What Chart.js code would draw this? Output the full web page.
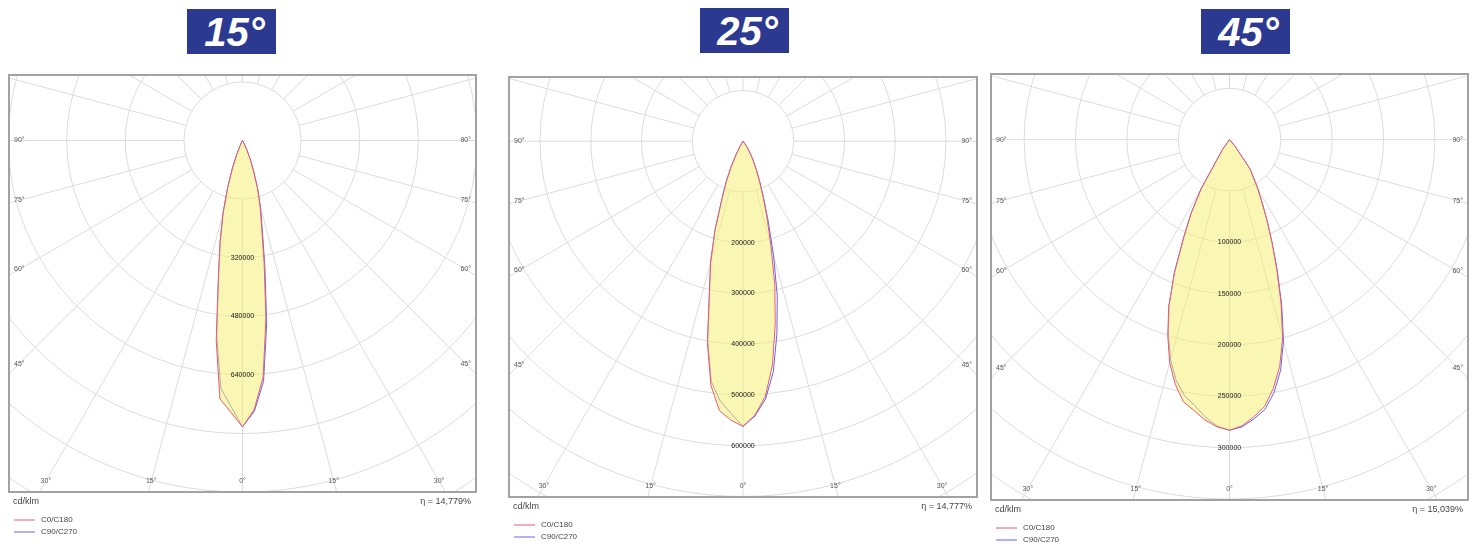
<!DOCTYPE html>
<html>
<head>
<meta charset="utf-8">
<script src="https://cdn.jsdelivr.net/npm/chart.js@4.4.0/dist/chart.umd.min.js"></script>
<style>
  html, body { margin: 0; padding: 0; background: #fff; }
  body { width: 1482px; height: 544px; position: relative; overflow: hidden; font-family: "Liberation Sans", Arial, sans-serif; }
  .tag { position: absolute; width: 89px; height: 45px; background: #2c3990; color: #fff;
         font-weight: bold; font-style: italic; font-size: 40px; line-height: 46px; text-align: center; padding-left: 6px; box-sizing: border-box; }
  canvas { position: absolute; }
</style>
</head>
<body>
<div class="tag" style="left:187px;top:9px">15°</div>
<div class="tag" style="left:700px;top:8px">25°</div>
<div class="tag" style="left:1201px;top:9px">45°</div>

<canvas id="c15" width="495" height="484" style="left:0;top:60px"></canvas>
<canvas id="c25" width="490" height="484" style="left:495px;top:60px"></canvas>
<canvas id="c45" width="497" height="484" style="left:985px;top:60px"></canvas>

<script>
// gamma angles (degrees from nadir) shared by all curves
const angles = [0, 2.5, 5, 7.5, 10, 12.5, 15, 17.5, 20, 22.5, 25, 27.5, 30, 35, 40, 45, 90];

// intensities cd/klm, 15° beam
const c0_15   = [782000, 735000, 648000, 490000, 341000, 241000, 186000, 136000, 87000, 55000, 27000, 8000, 0, 0, 0, 0, 0];
const c180_15 = [782000, 742000, 708000, 550000, 380000, 283000, 205000, 135000, 80000, 40000, 15000, 5000, 0, 0, 0, 0, 0];
const c90_15  = [782000, 740000, 660000, 505000, 352000, 250000, 190000, 138000, 88000, 55000, 27000, 8000, 0, 0, 0, 0, 0];
const c270_15 = [782000, 726000, 679000, 540000, 375000, 280000, 203000, 134000, 80000, 40000, 15000, 5000, 0, 0, 0, 0, 0];

// 25° beam
const c0_25   = [562000, 540000, 505000, 445000, 366000, 290000, 212000, 157000, 115000, 85000, 62000, 45000, 32000, 12000, 0, 0, 0];
const c180_25 = [562000, 550000, 533000, 485000, 404000, 307000, 247000, 184000, 122000, 87000, 55000, 28000, 10000, 0, 0, 0, 0];
const c90_25  = [562000, 542000, 510000, 458000, 385000, 312000, 232000, 165000, 118000, 86000, 62000, 45000, 32000, 12000, 0, 0, 0];
const c270_25 = [562000, 537000, 514000, 478000, 400000, 304000, 245000, 182000, 121000, 86000, 55000, 28000, 10000, 0, 0, 0, 0];

// 45° beam
const c0_45   = [283000, 279000, 271000, 262000, 246000, 226000, 200000, 167000, 135000, 108000, 86000, 68000, 55000, 35000, 8000, 0, 0];
const c180_45 = [283000, 280000, 274000, 266000, 259000, 244000, 225000, 200000, 173000, 140000, 106000, 81000, 55000, 12000, 0, 0, 0];
const c90_45  = [283000, 280000, 273000, 265000, 250000, 230000, 203000, 169000, 136000, 108000, 86000, 68000, 55000, 35000, 8000, 0, 0];
const c270_45 = [283000, 279000, 271000, 261000, 253000, 240000, 222000, 198000, 172000, 140000, 106000, 81000, 55000, 12000, 0, 0, 0];

// ring labels along the 0° axis
const rings15 = [320000, 480000, 640000];
const rings25 = [200000, 300000, 400000, 500000, 600000];
const rings45 = [100000, 150000, 200000, 250000, 300000];

const sideTicks = [90, 75, 60, 45];
const bottomTicks = [-30, -15, 0, 15, 30];
const legendLabels = ["C0/C180", "C90/C270"];

const RED = "rgb(232,92,112)";
const BLUE = "rgb(100,100,236)";
const FONT = '"Liberation Sans", Arial, sans-serif';

// left half = second plane (C180 / C270), right half = first plane (C0 / C90)
function curve(right, left) {
  const pts = [];
  for (let i = angles.length - 1; i >= 0; i--) {
    const a = angles[i] * Math.PI / 180;
    pts.push({ x: -left[i] * Math.sin(a), y: -left[i] * Math.cos(a) });
  }
  for (let i = 1; i < angles.length; i++) {
    const a = angles[i] * Math.PI / 180;
    pts.push({ x: right[i] * Math.sin(a), y: -right[i] * Math.cos(a) });
  }
  return pts;
}

const polarGrid = {
  id: "polarGrid",
  beforeDatasetsDraw(chart, args, opts) {
    const { ctx, chartArea: a, scales: { x, y } } = chart;
    const cx = x.getPixelForValue(0), cy = y.getPixelForValue(0);
    const rp = x.getPixelForValue(opts.step) - cx;
    ctx.save();
    ctx.beginPath();
    ctx.rect(a.left, a.top, a.width, a.height);
    ctx.clip();
    ctx.strokeStyle = "#dcdcdc";
    ctx.lineWidth = 1;
    for (let k = 1; k <= 10; k++) {
      ctx.beginPath();
      ctx.arc(cx, cy, k * rp, 0, Math.PI * 2);
      ctx.stroke();
    }
    for (let d = 0; d < 360; d += 15) {
      const t = d * Math.PI / 180;
      ctx.beginPath();
      ctx.moveTo(cx + rp * Math.sin(t), cy + rp * Math.cos(t));
      ctx.lineTo(cx + 2000 * Math.sin(t), cy + 2000 * Math.cos(t));
      ctx.stroke();
    }
    ctx.restore();
  },
  afterDatasetsDraw(chart, args, opts) {
    const { ctx, chartArea: a, scales: { x, y } } = chart;
    const cx = x.getPixelForValue(0), cy = y.getPixelForValue(0);
    ctx.save();
    ctx.font = "7px " + FONT;
    ctx.fillStyle = "#222";
    ctx.textAlign = "center";
    ctx.textBaseline = "middle";
    opts.rings.forEach(v => ctx.fillText(String(v), cx, y.getPixelForValue(-v)));

    ctx.fillStyle = "#555";
    const dx = cx - (a.left + 10);
    sideTicks.forEach(t => {
      const ty = cy + dx / Math.tan(t * Math.PI / 180);
      ctx.textAlign = "left";
      ctx.fillText(t + "°", a.left + 5, ty);
      ctx.textAlign = "right";
      ctx.fillText(t + "°", a.right - 5, ty);
    });
    const by = a.bottom - 11;
    ctx.textAlign = "center";
    bottomTicks.forEach(t => {
      const tx = cx + (by - cy) * Math.tan(t * Math.PI / 180);
      ctx.fillText(Math.abs(t) + "°", tx, by);
    });
    ctx.restore();
  },
  afterDraw(chart, args, opts) {
    const { ctx, chartArea: a } = chart;
    ctx.save();
    ctx.strokeStyle = "#a2a2a2";
    ctx.lineWidth = 2;
    ctx.strokeRect(a.left, a.top, a.width, a.height);

    ctx.font = "9px " + FONT;
    ctx.fillStyle = "#444";
    ctx.textBaseline = "middle";
    ctx.textAlign = "left";
    ctx.fillText("cd/klm", a.left + 4, a.bottom + 10);
    ctx.textAlign = "right";
    ctx.fillText(opts.eta, a.right - 5, a.bottom + 10);

    ctx.font = "8px " + FONT;
    ctx.textAlign = "left";
    [RED, BLUE].forEach((c, i) => {
      const ly = a.bottom + 28 + i * 12;
      ctx.strokeStyle = c;
      ctx.lineWidth = 1;
      ctx.beginPath();
      ctx.moveTo(a.left + 5, ly);
      ctx.lineTo(a.left + 26, ly);
      ctx.stroke();
      ctx.fillText(legendLabels[i], a.left + 32, ly);
    });
    ctx.restore();
  }
};

function makePanel(id, pad, step, ringPx, centerTop, planeA, planeB, rings, eta) {
  const canvas = document.getElementById(id);
  const W = canvas.width - pad.left - pad.right;
  const H = canvas.height - pad.top - pad.bottom;
  const u = step / ringPx;
  new Chart(canvas, {
    type: "line",
    data: {
      datasets: [
        {
          label: legendLabels[0],
          data: curve(planeA[0], planeA[1]),
          borderColor: RED,
          backgroundColor: "rgba(246,238,110,0.52)",
          borderWidth: 1,
          pointRadius: 0,
          tension: 0,
          fill: "shape",
        },
        {
          label: legendLabels[1],
          data: curve(planeB[0], planeB[1]),
          borderColor: BLUE,
          borderWidth: 1,
          pointRadius: 0,
          tension: 0,
          fill: false,
        },
      ],
    },
    options: {
      responsive: false,
      animation: false,
      layout: { padding: pad },
      scales: {
        x: { type: "linear", display: false, min: -W / 2 * u, max: W / 2 * u },
        y: { type: "linear", display: false, min: -(H - centerTop) * u, max: centerTop * u },
      },
      plugins: {
        legend: { display: false },
        tooltip: { enabled: false },
        polarGrid: { step: step, rings: rings, eta: eta },
      },
    },
    plugins: [polarGrid],
  });
}

makePanel("c15", { left: 9, top: 15, right: 19, bottom: 52 }, 160000, 58.6, 65.5,
  [c0_15, c180_15], [c90_15, c270_15], rings15, "η = 14,779%");
makePanel("c25", { left: 14, top: 17, right: 8, bottom: 47 }, 100000, 50.75, 64.2,
  [c0_25, c180_25], [c90_25, c270_25], rings25, "η = 14,777%");
makePanel("c45", { left: 6, top: 14, right: 14, bottom: 44 }, 50000, 51.35, 65.6,
  [c0_45, c180_45], [c90_45, c270_45], rings45, "η = 15,039%");
</script>
</body>
</html>
